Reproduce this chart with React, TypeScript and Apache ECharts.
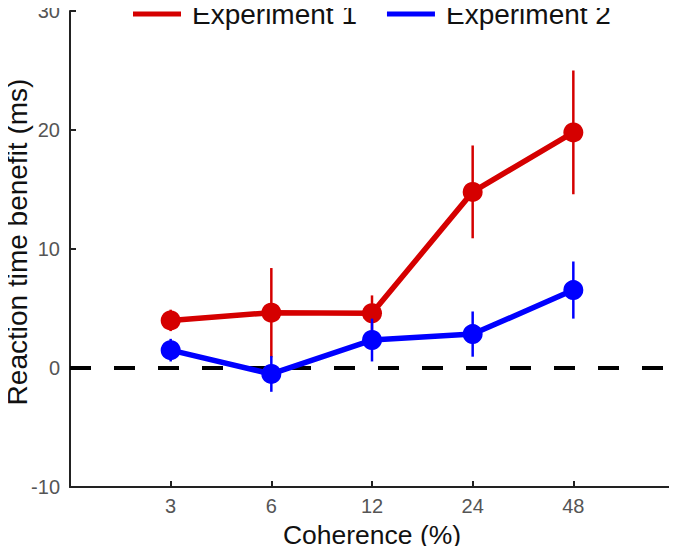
import React, { useEffect, useRef } from "react";
import * as echarts from "echarts";

const categories = ["3", "6", "12", "24", "48"];
const exp1Mean = [4.0, 4.65, 4.6, 14.8, 19.8];
const exp1Err = [0.9, 3.75, 1.5, 3.9, 5.2];
const exp2Mean = [1.5, -0.5, 2.35, 2.85, 6.55];
const exp2Err = [0.95, 1.5, 1.8, 1.9, 2.4];
const yTicks = [-10, 0, 10, 20, 30];

const RED = "#d50000";
const BLUE = "#0000ff";
const FONT = "'Liberation Sans', Arial, Helvetica, sans-serif";

export default function App() {
  const ref = useRef<HTMLDivElement>(null);
  useEffect(() => {
    if (!ref.current) return;
    const chart = echarts.init(ref.current, null, { renderer: "svg" });
    const pos = categories.map((_, i) => i + 1);
    const lineData = (m: number[]) => m.map((v, i) => [pos[i], v]);
    const errData = (m: number[], e: number[]) => m.map((v, i) => [pos[i], v - e[i], v + e[i]]);
    const errSeries = (name: string, data: number[][], color: string, z: number) => ({
      type: "custom",
      name,
      z,
      silent: true,
      data,
      encode: { x: 0, y: [1, 2] },
      renderItem: (params: any, api: any) => {
        const p1 = api.coord([api.value(0), api.value(1)]);
        const p2 = api.coord([api.value(0), api.value(2)]);
        return {
          type: "line",
          shape: { x1: p1[0], y1: p1[1], x2: p2[0], y2: p2[1] },
          style: { stroke: color, lineWidth: 2.5 },
        };
      },
    });
    chart.setOption({
      animation: false,
      textStyle: { fontFamily: FONT },
      grid: { left: 70, right: 3, top: 11, bottom: 67, outerBoundsMode: "none", containLabel: false },
      legend: {
        top: 0,
        left: 133,
        padding: 0,
        itemWidth: 48,
        itemHeight: 5,
        itemGap: 30,
        icon: "rect",
        textStyle: { fontSize: 28, color: "#111", fontFamily: FONT, padding: [0, 0, 0, 6] },
        data: [
          { name: "Experiment 1", itemStyle: { color: RED } },
          { name: "Experiment 2", itemStyle: { color: BLUE } },
        ],
      },
      graphic: [
        {
          type: "text",
          x: 17,
          y: 242,
          rotation: Math.PI / 2,
          style: {
            text: "Reaction time benefit (ms)",
            fontSize: 28,
            fontFamily: FONT,
            fill: "#111",
            align: "center",
            verticalAlign: "middle",
          },
        },
      ],
      xAxis: {
        type: "value",
        min: 0,
        max: 6,
        interval: 1,
        splitLine: { show: false },
        axisLine: { onZero: false, lineStyle: { color: "#222", width: 2 } },
        axisTick: { inside: true, length: 6, lineStyle: { color: "#222", width: 2 }, customValues: pos },
        axisLabel: {
          customValues: pos,
          formatter: (v: number) => categories[Math.round(v) - 1] ?? "",
          color: "#555",
          fontSize: 20,
          margin: 9,
          fontFamily: FONT,
        },
        name: "Coherence (%)",
        nameLocation: "middle",
        nameGap: 34,
        nameTextStyle: { fontSize: 26.5, color: "#111", fontFamily: FONT },
      },
      yAxis: {
        type: "value",
        min: -10,
        max: 30,
        interval: 10,
        splitLine: { show: false },
        axisLine: { show: true, lineStyle: { color: "#222", width: 2 } },
        axisTick: { show: true, inside: true, length: 6, lineStyle: { color: "#222", width: 2 }, customValues: yTicks },
        axisLabel: { customValues: yTicks, color: "#555", fontSize: 20, margin: 10, fontFamily: FONT },
      },
      series: [
        {
          type: "line",
          name: "zero",
          data: [[0, 0], [6, 0]],
          symbol: "none",
          silent: true,
          z: 1,
          lineStyle: { color: "#000", width: 4, type: [21, 23] },
        },
        errSeries("err1", errData(exp1Mean, exp1Err), RED, 2),
        {
          type: "line",
          name: "Experiment 1",
          data: lineData(exp1Mean),
          symbol: "circle",
          symbolSize: 20,
          z: 3,
          itemStyle: { color: RED },
          lineStyle: { color: RED, width: 5.5 },
        },
        errSeries("err2", errData(exp2Mean, exp2Err), BLUE, 4),
        {
          type: "line",
          name: "Experiment 2",
          data: lineData(exp2Mean),
          symbol: "circle",
          symbolSize: 20,
          z: 5,
          itemStyle: { color: BLUE },
          lineStyle: { color: BLUE, width: 5.5 },
        },
      ],
    });
    return () => chart.dispose();
  }, []);
  return <div ref={ref} style={{ width: 677, height: 554, margin: -8 }} />;
}
